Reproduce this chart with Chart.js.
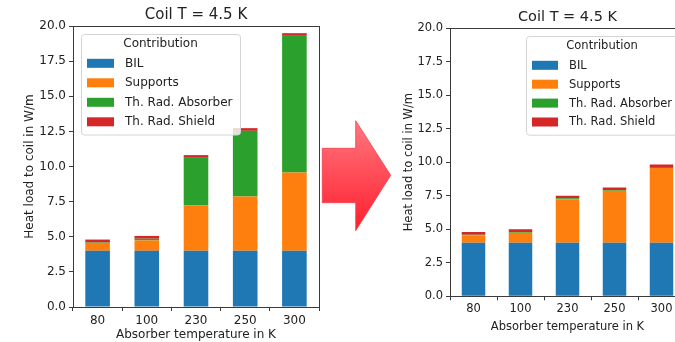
<!DOCTYPE html>
<html>
<head>
<meta charset="utf-8">
<script src="https://cdn.jsdelivr.net/npm/chart.js@4.4.1/dist/chart.umd.min.js"></script>
<style>
  html, body { margin: 0; padding: 0; background: #fff; overflow: hidden; }
  body { width: 675px; height: 342px; position: relative; }
  .box { position: absolute; top: 0; height: 342px; overflow: hidden; }
  #leftBox { left: 0; width: 330px; }
  #rightBox { left: 375px; width: 300px; }
  #arrow { position: absolute; left: 0; top: 0; }
</style>
</head>
<body>
<div class="box" id="leftBox"><canvas id="left" width="330" height="342" style="width:330px;height:342px"></canvas></div>
<div class="box" id="rightBox"><canvas id="right" width="320" height="342" style="width:320px;height:342px"></canvas></div>
<svg id="arrow" width="675" height="342">
  <defs>
    <linearGradient id="arrowFill" x1="0" y1="0" x2="0" y2="1">
      <stop offset="0" stop-color="#ff7880"/>
      <stop offset="1" stop-color="#ff1e2e"/>
    </linearGradient>
  </defs>
  <polygon points="322.3,148.3 355.7,148.3 355.7,120.7 390.7,175.3 355.7,230.7 355.7,202.7 322.3,202.7"
           fill="url(#arrowFill)" stroke="#f0404c" stroke-width="0.8"/>
</svg>
<script>
// absorber temperatures
const categories = ['80', '100', '230', '250', '300'];
const seriesNames = ['BIL', 'Supports', 'Th. Rad. Absorber', 'Th. Rad. Shield'];
const seriesColors = ['#1f77b4', '#ff7f0e', '#2ca02c', '#d62728'];

// heat load in W/m
const bil = [4.0, 4.0, 4.0, 4.0, 4.0];
const supports = [0.56, 0.74, 3.24, 3.86, 5.57];
const absorberBefore = [0.03, 0.12, 3.38, 4.68, 9.73];
const absorberAfter = [0.03, 0.05, 0.06, 0.06, 0.07];
const shield = [0.21, 0.2, 0.19, 0.19, 0.19];

const yTicks = [0, 2.5, 5, 7.5, 10, 12.5, 15, 17.5, 20];

const FONT = 'DejaVu Sans';
const AXIS = '#3a3a3a';

// matplotlib style frame around the axes
const frame = {
  id: 'frame',
  afterDatasetsDraw(chart) {
    const {ctx, chartArea: a} = chart;
    ctx.save();
    ctx.strokeStyle = AXIS;
    ctx.lineWidth = 1;
    const l = Math.round(a.left) + 0.5, t = Math.round(a.top) + 0.5;
    const r = Math.round(a.right) + 0.5, b = Math.round(a.bottom) + 0.5;
    ctx.strokeRect(l, t, r - l, b - t);
    ctx.restore();
  }
};

// legend box inside the axes, drawn over the bars
const legendBox = {
  id: 'legendBox',
  afterDraw(chart, args, o) {
    const {ctx, chartArea: a} = chart;
    const w = o.width, rowH = o.rowH;
    const h = 29 + 3 * rowH + 13;
    const x = o.side === 'left' ? a.left + o.pad : a.right - o.pad - w;
    const y = a.top + o.padTop;
    ctx.save();
    ctx.beginPath();
    ctx.roundRect(x + 0.5, y + 0.5, w, h, 3);
    ctx.fillStyle = 'rgba(255,255,255,0.8)';
    ctx.fill();
    ctx.strokeStyle = '#d4d4d4';
    ctx.lineWidth = 1;
    ctx.stroke();
    ctx.font = o.fontSize + 'px "' + FONT + '"';
    ctx.fillStyle = '#222';
    ctx.textBaseline = 'middle';
    ctx.textAlign = 'center';
    ctx.fillText(o.title, x + w / 2, y + 10);
    ctx.textAlign = 'left';
    chart.data.datasets.forEach((ds, i) => {
      const cy = y + 29.3 + i * rowH;
      ctx.fillStyle = ds.backgroundColor;
      ctx.fillRect(x + 6, cy - 4.5, o.swatch, 9);
      ctx.fillStyle = '#222';
      ctx.fillText(ds.label, x + o.textX, cy + 0.5);
    });
    ctx.restore();
  }
};

function makeChart(id, absorber, s) {
  const values = [bil, supports, absorber, shield];
  return new Chart(document.getElementById(id), {
    type: 'bar',
    data: {
      labels: categories,
      datasets: seriesNames.map((name, i) => ({
        label: name,
        data: values[i],
        backgroundColor: seriesColors[i],
        borderWidth: 0,
        barPercentage: 0.5,
        categoryPercentage: 1.0
      }))
    },
    options: {
      responsive: false,
      animation: false,
      layout: { padding: { left: 0, right: s.padRight, top: 0, bottom: 0 } },
      plugins: {
        legend: { display: false },
        tooltip: { enabled: false },
        title: {
          display: true,
          fullSize: false,
          text: 'Coil T = 4.5 K',
          color: '#222',
          font: { family: FONT, size: s.titleSize, weight: 'normal' },
          padding: { top: s.titleTop, bottom: s.titleBottom }
        },
        legendBox: {
          title: 'Contribution',
          side: s.legendSide,
          pad: s.legendPad,
          padTop: 8,
          width: s.legendW,
          rowH: s.rowH,
          fontSize: s.font,
          swatch: s.swatch,
          textX: s.textX
        }
      },
      scales: {
        x: {
          stacked: true,
          border: { display: false },
          grid: { display: true, drawOnChartArea: false, tickLength: 4, color: AXIS },
          ticks: { color: '#222', font: { family: FONT, size: s.font }, padding: s.xTickPad, maxRotation: 0 },
          title: {
            display: true,
            text: 'Absorber temperature in K',
            color: '#222',
            font: { family: FONT, size: s.font },
            padding: { top: 0, bottom: s.xTitleBottom }
          },
          afterFit: sc => { sc.height = s.xHeight; }
        },
        y: {
          stacked: true,
          min: 0,
          max: 20,
          border: { display: false },
          afterBuildTicks: sc => { sc.ticks = yTicks.map(v => ({ value: v })); },
          grid: { display: true, drawOnChartArea: false, tickLength: 4, color: AXIS },
          ticks: {
            color: '#222',
            font: { family: FONT, size: s.font },
            padding: 3,
            callback: v => Number(v).toFixed(1)
          },
          title: {
            display: true,
            text: 'Heat load to coil in W/m',
            color: '#222',
            font: { family: FONT, size: s.font },
            padding: { top: s.yTitleTop, bottom: 0 }
          },
          afterFit: sc => { sc.width = s.yWidth; }
        }
      }
    },
    plugins: [frame, legendBox]
  });
}

makeChart('left', absorberBefore, {
  padRight: 11, titleSize: 15, titleTop: 6, titleBottom: 2,
  legendSide: 'left', legendPad: 8, legendW: 159, rowH: 19.5,
  font: 12, swatch: 27, textX: 44,
  xTickPad: 3, xTitleBottom: 0, xHeight: 35, yWidth: 73, yTitleTop: 23
});

// right panel runs past the edge of the picture, as in the original
makeChart('right', absorberAfter, {
  padRight: 10, titleSize: 14.5, titleTop: 8.6, titleBottom: 2,
  legendSide: 'right', legendPad: 7, legendW: 152, rowH: 18.9,
  font: 11.5, swatch: 26, textX: 43,
  xTickPad: 2, xTitleBottom: 8, xHeight: 45.7, yWidth: 75, yTitleTop: 27
});
</script>
</body>
</html>
